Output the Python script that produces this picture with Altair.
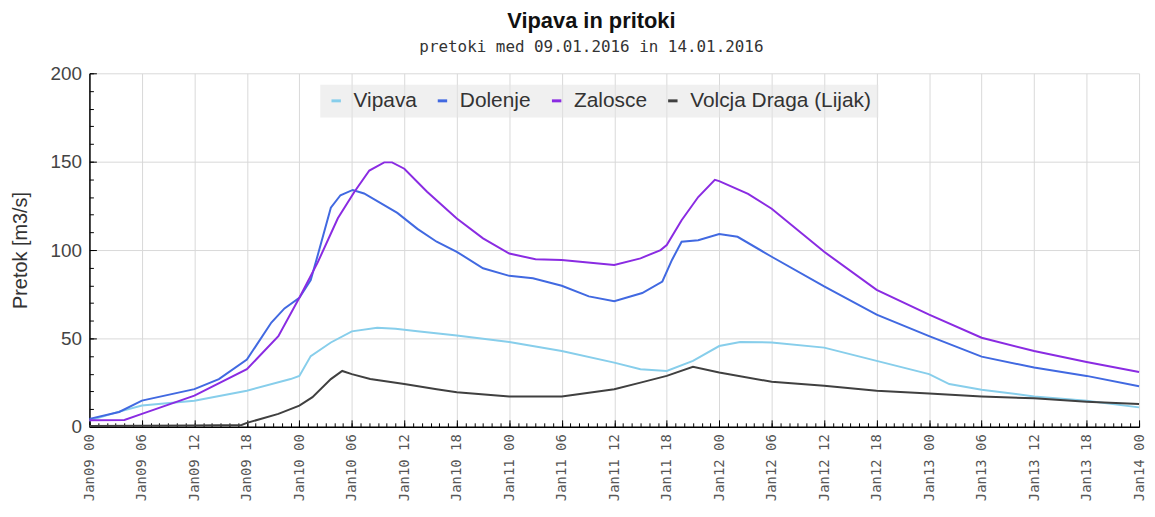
import json
import altair as alt
import pandas as pd

# ---- data (hours since 2016-01-09 00:00, discharge m3/s) ----
series_names = ["Vipava", "Dolenje", "Zalosce", "Volcja Draga (Lijak)"]
series_colors = ["#87CEEB", "#4169E1", "#8A2BE2", "#404040"]

vipava_h = [0, 3, 6, 12, 18, 23, 24, 25.3, 27.6, 30, 32.9, 35, 37.5, 42, 48, 54, 60, 63, 66, 69, 72, 74.4, 78, 84, 90, 96, 98.3, 102, 108, 114, 120]
vipava_v = [3.5, 8, 12, 14.8, 20.4, 27, 28.8, 40, 47.7, 54, 56, 55.5, 54, 51.7, 48, 42.9, 36.3, 32.6, 31.6, 37.3, 45.7, 48, 47.7, 44.8, 37.3, 29.8, 24.2, 21, 17.2, 14.8, 11]

dolenje_h = [0, 3.4, 6, 12, 14.8, 18, 20.8, 22.3, 24, 25.3, 26.1, 27.6, 28.7, 30.1, 31.4, 35.2, 37.5, 39.7, 42, 45, 48, 50.7, 54, 57.1, 60, 63.2, 65.5, 66.6, 67.7, 69.6, 72, 74.1, 78, 84, 90, 96, 102, 108, 114, 120]
dolenje_v = [4.5, 8.4, 14.8, 21.3, 27, 38, 59, 67, 73, 83, 97, 124, 131, 134, 132, 121, 112, 104.7, 99, 89.7, 85.4, 84, 79.8, 73.8, 71, 75.7, 82.2, 94.4, 104.7, 105.6, 109, 107.5, 96.2, 79.4, 63.5, 51.3, 39.7, 33.5, 28.8, 22.9]

zalosce_h = [0, 4, 6, 12, 18, 21.6, 24, 26.1, 28.4, 30.3, 32, 33.7, 34.6, 36, 38.6, 42, 45, 48, 51, 54, 57, 60, 63, 65.3, 66, 67.7, 69.6, 71.5, 72, 75.3, 78, 84, 90, 96, 102, 108, 114, 120]
zalosce_v = [3.7, 3.9, 7.3, 17.6, 32.6, 51.3, 73, 93, 118, 133, 145, 149.6, 149.6, 146, 133, 117.8, 106.6, 98, 94.8, 94.4, 92.9, 91.6, 95.3, 100, 102.8, 116.9, 130, 139.7, 139, 131.8, 123.4, 99, 77.5, 63.5, 50.4, 42.9, 36.7, 31]

volcja_h = [0, 6, 12, 17.4, 18, 21.6, 24, 25.5, 27.6, 28.9, 30, 32.1, 36, 39.7, 42, 48, 54, 60, 63, 66, 69, 72, 78, 84, 90, 96, 102, 108, 114, 120]
volcja_v = [0.5, 0.6, 0.8, 1, 2.2, 7.3, 12, 16.8, 27, 31.6, 29.8, 27, 24.2, 21.3, 19.5, 17.2, 17.2, 21.3, 25, 28.8, 34, 30.7, 25.5, 23.2, 20.4, 18.9, 17.2, 16.1, 14.2, 12.9]

x_tick_hours = list(range(0, 121, 6))
x_tick_labels = ["Jan09 00", "Jan09 06", "Jan09 12", "Jan09 18",
                 "Jan10 00", "Jan10 06", "Jan10 12", "Jan10 18",
                 "Jan11 00", "Jan11 06", "Jan11 12", "Jan11 18",
                 "Jan12 00", "Jan12 06", "Jan12 12", "Jan12 18",
                 "Jan13 00", "Jan13 06", "Jan13 12", "Jan13 18",
                 "Jan14 00"]
x_minor_hours = list(range(0, 121, 1))
y_major = [0, 50, 100, 150, 200]
y_minor = list(range(0, 201, 10))

rows = []
for name, hs, vs in [("Vipava", vipava_h, vipava_v),
                     ("Dolenje", dolenje_h, dolenje_v),
                     ("Zalosce", zalosce_h, zalosce_v),
                     ("Volcja Draga (Lijak)", volcja_h, volcja_v)]:
    for h, v in zip(hs, vs):
        rows.append({"series": name, "h": h, "v": v})
df = pd.DataFrame(rows)

label_expr = json.dumps(x_tick_labels) + "[round(datum.value / 6)]"

xscale = alt.Scale(domain=[0, 120], nice=False, zero=False)
yscale = alt.Scale(domain=[0, 200], nice=False)

base = alt.Chart(df)

lines = base.mark_line(strokeWidth=2).encode(
    x=alt.X("h:Q", scale=xscale, axis=alt.Axis(
        orient="bottom", values=x_tick_hours, labelExpr=label_expr,
        labelAngle=270, labelAlign="right", labelBaseline="middle",
        labelFont="DejaVu Sans Mono", labelFontSize=14, labelColor="#555",
        labelPadding=7, ticks=False, grid=True, gridColor="#d9d9d9",
        domain=True, domainColor="#000", domainWidth=1.5, title=None,
        labelOverlap=False, labelBound=False, labelFlush=False)),
    y=alt.Y("v:Q", scale=yscale, axis=alt.Axis(
        orient="left", values=y_major, labelFont="Liberation Sans",
        labelFontSize=19, labelColor="#444", labelPadding=8, ticks=False,
        grid=True, gridColor="#d9d9d9", domain=True, domainColor="#000",
        domainWidth=1.5, title="Pretok [m3/s]", titleFont="Liberation Sans",
        titleFontSize=20, titleFontWeight="normal", titleColor="#333",
        titlePadding=20)),
    color=alt.Color("series:N", scale=alt.Scale(domain=series_names, range=series_colors),
                    legend=alt.Legend(
                        orient="none", legendX=232, legendY=11, direction="horizontal",
                        title=None, symbolType="stroke", symbolSize=90,
                        symbolStrokeWidth=3, labelFont="Liberation Sans",
                        labelFontSize=21, labelColor="#333", labelOffset=7,
                        labelLimit=0, columnPadding=14, padding=6,
                        fillColor="rgba(228,228,228,0.55)", strokeColor="transparent")),
    detail="series:N",
)

minor = base.mark_line(opacity=0).encode(
    x=alt.X("h:Q", scale=xscale, axis=alt.Axis(
        orient="bottom", values=x_minor_hours, tickSize=4, offset=-4,
        tickColor="#000", labels=False, domain=False, grid=False, title=None)),
    y=alt.Y("v:Q", scale=yscale, axis=alt.Axis(
        orient="left", values=y_minor, tickSize=4, offset=-4,
        tickColor="#000", labels=False, domain=False, grid=False, title=None)),
    detail="series:N",
)

major = base.mark_line(opacity=0).encode(
    x=alt.X("h:Q", scale=xscale, axis=alt.Axis(
        orient="bottom", values=x_tick_hours, tickSize=7, offset=-7,
        tickColor="#000", labels=False, domain=False, grid=False, title=None)),
    y=alt.Y("v:Q", scale=yscale, axis=alt.Axis(
        orient="left", values=y_major, tickSize=7, offset=-7,
        tickColor="#000", labels=False, domain=False, grid=False, title=None)),
    detail="series:N",
)

chart = alt.layer(lines, minor, major).resolve_axis(
    x="independent", y="independent"
).properties(
    width=1057, height=356,
    title=alt.TitleParams(
        text="Vipava in pritoki",
        subtitle="pretoki med 09.01.2016 in 14.01.2016",
        anchor="middle", dx=-23, offset=8,
        font="Liberation Sans", fontSize=22, fontWeight="bold", color="#111",
        subtitleFont="DejaVu Sans Mono", subtitleFontSize=16,
        subtitleColor="#333", subtitlePadding=7),
    autosize=alt.AutoSizeParams(type="none"),
    padding={"left": 82, "top": 64, "right": 8, "bottom": 77},
).configure_view(stroke=None)

chart.save("out.html", embed_options={"renderer": "svg", "actions": False})
